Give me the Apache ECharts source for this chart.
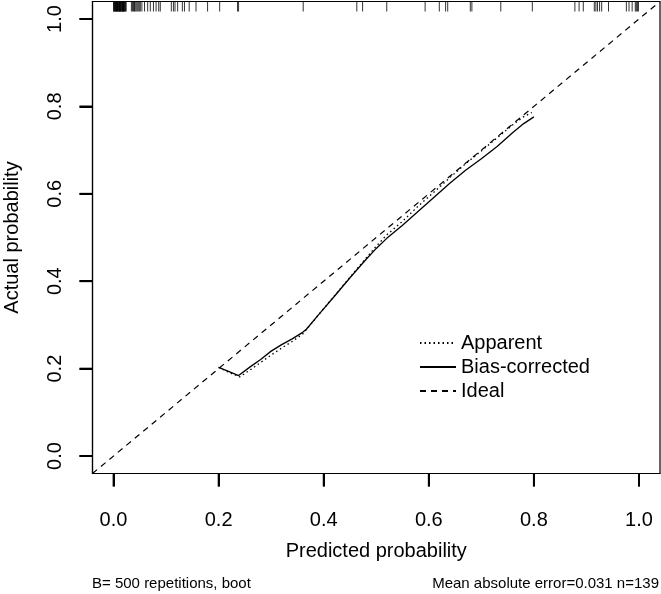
<!DOCTYPE html>
<html>
<head>
<meta charset="utf-8">
<script src="https://cdn.jsdelivr.net/npm/echarts@6/dist/echarts.min.js"></script>
<style>
html,body{margin:0;padding:0;background:#fff;}
#chart{width:661px;height:594px;}
</style>
</head>
<body>
<div id="chart"></div>
<script>
// Tick values
const tickValues = [0, 0.2, 0.4, 0.6, 0.8, 1.0];

// Apparent calibration curve (dotted)
const apparentX = [0.200, 0.220, 0.240, 0.260, 0.280, 0.300, 0.320, 0.340, 0.360, 0.367, 0.390, 0.420, 0.450, 0.480, 0.500, 0.520, 0.550, 0.580, 0.610, 0.640, 0.670, 0.700, 0.730, 0.760, 0.780, 0.796];
const apparentY = [0.203, 0.191, 0.181, 0.197, 0.214, 0.231, 0.247, 0.262, 0.279, 0.289, 0.323, 0.366, 0.409, 0.452, 0.480, 0.506, 0.537, 0.572, 0.604, 0.637, 0.669, 0.698, 0.728, 0.758, 0.776, 0.786];

// Bias-corrected calibration curve (solid)
const biasX = [0.200, 0.220, 0.238, 0.260, 0.280, 0.300, 0.320, 0.340, 0.360, 0.367, 0.390, 0.420, 0.450, 0.480, 0.500, 0.520, 0.550, 0.580, 0.610, 0.640, 0.670, 0.700, 0.730, 0.760, 0.780, 0.800];
const biasY = [0.203, 0.193, 0.184, 0.204, 0.221, 0.240, 0.255, 0.268, 0.283, 0.290, 0.323, 0.365, 0.408, 0.449, 0.475, 0.498, 0.528, 0.560, 0.592, 0.624, 0.654, 0.680, 0.708, 0.740, 0.760, 0.776];

// Ideal line (dashed)
const idealX = [-0.04, 1.04];
const idealY = [-0.04, 1.04];

// Rug of predicted probabilities (top of plot)
const rugValues = [0.000, 0.001, 0.002, 0.003, 0.003, 0.004, 0.005, 0.006, 0.006, 0.007, 0.008, 0.008, 0.009, 0.010, 0.011, 0.011, 0.012, 0.013, 0.013, 0.014, 0.015, 0.016, 0.017, 0.017, 0.018, 0.019, 0.019, 0.020, 0.021, 0.022, 0.023, 0.024,
  0.034, 0.036, 0.038, 0.040, 0.041, 0.043, 0.045, 0.047, 0.049, 0.051,
  0.054, 0.059, 0.065, 0.070, 0.076, 0.081, 0.086, 0.089,
  0.110, 0.114, 0.117, 0.122, 0.131, 0.135, 0.144, 0.157, 0.179, 0.202, 0.236, 0.238,
  0.361, 0.463, 0.474, 0.520, 0.593, 0.620, 0.632, 0.636, 0.679, 0.682, 0.737, 0.797,
  0.878, 0.886, 0.894, 0.915, 0.918, 0.921, 0.925, 0.929, 0.942, 0.976, 0.981, 0.987, 0.993, 0.995, 0.997, 0.999];

const legendNames = ['Apparent', 'Bias-corrected', 'Ideal'];
const xTitle = 'Predicted probability';
const yTitle = 'Actual probability';
const footLeft = 'B= 500 repetitions, boot';
const footRight = 'Mean absolute error=0.031 n=139';

const AXMIN = -0.04, AXMAX = 1.04, TICKLEN = 13;
const zip = (xs, ys) => xs.map((x, i) => [x, ys[i]]);
const FONT = 'Liberation Sans, Arial, sans-serif';

const chart = echarts.init(document.getElementById('chart'), null, {renderer: 'canvas'});
chart.setOption({
  animation: false,
  backgroundColor: '#fff',
  textStyle: {fontFamily: FONT, color: '#000'},
  grid: {left: 92.5, right: 1, top: 1.5, bottom: 120.5, show: true, borderColor: '#000', borderWidth: 1.2, backgroundColor: 'transparent',
         outerBounds: {left: -200, right: -200, top: -200, bottom: -200}},
  xAxis: {
    type: 'value', min: AXMIN, max: AXMAX,
    axisLine: {show: true, onZero: false, lineStyle: {color: '#000', width: 1.2}},
    splitLine: {show: false},
    axisTick: {show: true, customValues: tickValues, length: TICKLEN, lineStyle: {color: '#000', width: 2}},
    axisLabel: {customValues: tickValues, formatter: v => v.toFixed(1), margin: 37, fontSize: 20, color: '#000', fontFamily: FONT},
    name: xTitle, nameLocation: 'middle', nameGap: 68,
    nameTextStyle: {fontSize: 20, color: '#000', fontFamily: FONT}
  },
  yAxis: {
    type: 'value', min: AXMIN, max: AXMAX,
    axisLine: {show: true, onZero: false, lineStyle: {color: '#000', width: 1.2}},
    splitLine: {show: false},
    axisTick: {show: true, customValues: tickValues, length: TICKLEN, lineStyle: {color: '#000', width: 2}},
    axisLabel: {customValues: tickValues, formatter: v => v.toFixed(1), rotate: 90, margin: 27, fontSize: 20, color: '#000', fontFamily: FONT},
    name: yTitle, nameLocation: 'middle', nameGap: 70,
    nameTextStyle: {fontSize: 20, color: '#000', fontFamily: FONT}
  },
  legend: {
    data: legendNames,
    orient: 'vertical', left: 419, top: 333, padding: 0,
    itemWidth: 36, itemHeight: 10, itemGap: 4,
    itemStyle: {color: 'transparent', borderWidth: 0, opacity: 0},
    textStyle: {fontSize: 20, color: '#000', fontFamily: FONT},
    selectedMode: false
  },
  series: [
    {
      name: 'Apparent', type: 'line', data: zip(apparentX, apparentY),
      symbol: 'none', showSymbol: false, smooth: false,
      lineStyle: {color: '#000', width: 1.3, type: [1.5, 3]}, itemStyle: {color: '#000'}
    },
    {
      name: 'Bias-corrected', type: 'line', data: zip(biasX, biasY),
      symbol: 'none', showSymbol: false,
      lineStyle: {color: '#000', width: 1.3, type: 'solid'}, itemStyle: {color: '#000'}
    },
    {
      name: 'Ideal', type: 'line', data: zip(idealX, idealY),
      symbol: 'none', showSymbol: false,
      lineStyle: {color: '#000', width: 1.2, type: [6, 5]}, itemStyle: {color: '#000'}
    },
    {
      name: 'rug', type: 'scatter', data: rugValues.map(v => [v, AXMAX]),
      symbol: 'rect', symbolSize: [1, 10], symbolOffset: [0, 5],
      itemStyle: {color: '#000'}, silent: true, clip: false
    },
    {
      name: 'xticks', type: 'scatter', data: tickValues.map(v => [v, AXMIN]),
      symbol: 'rect', symbolSize: [2, TICKLEN], symbolOffset: [0, TICKLEN / 2],
      itemStyle: {color: '#000'}, silent: true, clip: false, z: 10
    },
    {
      name: 'yticks', type: 'scatter', data: tickValues.map(v => [AXMIN, v]),
      symbol: 'rect', symbolSize: [TICKLEN, 2], symbolOffset: [-TICKLEN / 2, 0],
      itemStyle: {color: '#000'}, silent: true, clip: false, z: 10
    }
  ],
  graphic: [
    {type: 'text', left: 92, top: 576, style: {text: footLeft, fontSize: 15, fill: '#000', fontFamily: FONT}},
    {type: 'text', right: 2, top: 576, style: {text: footRight, fontSize: 15, fill: '#000', fontFamily: FONT}}
  ]
});
</script>
</body>
</html>
